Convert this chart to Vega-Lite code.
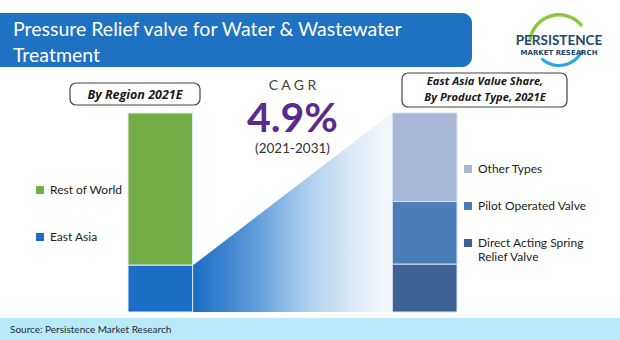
{
  "$schema": "https://vega.github.io/schema/vega-lite/v6.json",
  "width": 620,
  "height": 340,
  "padding": 0,
  "autosize": {"type": "none"},
  "background": "white",
  "config": {"view": {"stroke": null}, "font": "Lato"},
  "datasets": {
    "region": [
      {"panel": "By Region 2021E", "segment": "Rest of World", "share": 76.5},
      {"panel": "By Region 2021E", "segment": "East Asia", "share": 23.5}
    ],
    "product": [
      {"panel": "East Asia by Product Type 2021E", "segment": "Other Types", "share": 44.5},
      {"panel": "East Asia by Product Type 2021E", "segment": "Pilot Operated Valve", "share": 31.5},
      {"panel": "East Asia by Product Type 2021E", "segment": "Direct Acting Spring Relief Valve", "share": 24.0}
    ],
    "bridge": [
      {"stage": "By Region 2021E", "east_asia_top": 23.5},
      {"stage": "East Asia by Product Type 2021E", "east_asia_top": 100}
    ],
    "cagr": [
      {"metric": "CAGR", "value": "4.9%", "period": "(2021-2031)"}
    ]
  },
  "resolve": {"scale": {"x": "independent", "color": "independent"}},
  "layer": [
    {
      "data": {"values": [{}]},
      "mark": {"type": "rect", "x": -12, "x2": 472, "y": 13, "y2": 67, "cornerRadius": 10, "fill": "#1f71c1"},
      "encoding": {}
    },
    {
      "data": {"values": [{}]},
      "mark": {"type": "rule", "x": 443, "x2": 492, "y": 66, "y2": 19, "strokeWidth": 9, "strokeCap": "round", "color": "#2a6cb8"},
      "encoding": {}
    },
    {
      "data": {"values": [{}]},
      "mark": {"type": "rule", "x": 474, "x2": 505, "y": 54, "y2": 23, "strokeWidth": 7, "strokeCap": "round", "color": "#3fa3da"},
      "encoding": {}
    },
    {
      "data": {"values": [{}]},
      "mark": {"type": "arc", "x": 559, "y": 44, "outerRadius": 31, "innerRadius": 27.5, "theta": -1.5, "theta2": 0.9, "fill": "#8cc63f"},
      "encoding": {}
    },
    {
      "data": {"values": [{}]},
      "mark": {"type": "arc", "x": 559, "y": 40, "outerRadius": 27, "innerRadius": 24, "theta": 2.0, "theta2": 3.9, "fill": "#29a8e0"},
      "encoding": {}
    },
    {
      "data": {"values": [{}]},
      "mark": {"type": "text", "x": 559, "y": 45, "text": "PERSISTENCE", "align": "center", "baseline": "alphabetic", "font": "Lato", "fontSize": 13.5, "fontWeight": "bold", "color": "#22466f"},
      "encoding": {}
    },
    {
      "data": {"values": [{}]},
      "mark": {"type": "text", "x": 559, "y": 55, "text": "MARKET RESEARCH", "align": "center", "baseline": "alphabetic", "font": "DejaVu Sans", "fontSize": 7, "fontWeight": "bold", "color": "#22466f"},
      "encoding": {}
    },
    {
      "data": {"values": [{}]},
      "mark": {"type": "text", "x": 13, "y": 36, "text": "Pressure Relief valve for Water & Wastewater", "align": "left", "baseline": "alphabetic", "font": "Lato", "fontSize": 19.5, "color": "white"},
      "encoding": {}
    },
    {
      "data": {"values": [{}]},
      "mark": {"type": "text", "x": 13, "y": 62, "text": "Treatment", "align": "left", "baseline": "alphabetic", "font": "Lato", "fontSize": 19.5, "color": "white"},
      "encoding": {}
    },
    {
      "data": {"values": [{}]},
      "mark": {"type": "rect", "x": 70, "x2": 200, "y": 83, "y2": 105, "cornerRadius": 6, "fill": "white", "stroke": "#444444", "strokeWidth": 1.2},
      "encoding": {}
    },
    {
      "data": {"values": [{}]},
      "mark": {"type": "text", "x": 135, "y": 98.5, "text": "By Region 2021E", "align": "center", "baseline": "alphabetic", "font": "Open Sans", "fontSize": 12.5, "fontStyle": "italic", "fontWeight": "bold", "color": "#1a1a1a"},
      "encoding": {}
    },
    {
      "data": {"values": [{}]},
      "mark": {"type": "rect", "x": 402, "x2": 567, "y": 73, "y2": 107, "cornerRadius": 6, "fill": "white", "stroke": "#444444", "strokeWidth": 1.2},
      "encoding": {}
    },
    {
      "data": {"values": [{}]},
      "mark": {"type": "text", "x": 485, "y": 85, "text": "East Asia Value Share,", "align": "center", "baseline": "alphabetic", "font": "Open Sans", "fontSize": 11.2, "fontStyle": "italic", "fontWeight": "bold", "color": "#1a1a1a"},
      "encoding": {}
    },
    {
      "data": {"values": [{}]},
      "mark": {"type": "text", "x": 485, "y": 101, "text": "By Product Type, 2021E", "align": "center", "baseline": "alphabetic", "font": "Open Sans", "fontSize": 11.2, "fontStyle": "italic", "fontWeight": "bold", "color": "#1a1a1a"},
      "encoding": {}
    },
    {
      "data": {"name": "bridge"},
      "mark": {
        "type": "area",
        "color": {
          "gradient": "linear", "x1": 0, "y1": 0, "x2": 1, "y2": 0,
          "stops": [
            {"offset": 0, "color": "#1a6cc6"},
            {"offset": 0.3, "color": "#5c9ad8"},
            {"offset": 0.55, "color": "#a6cbed"},
            {"offset": 0.8, "color": "#dde9f6"},
            {"offset": 1, "color": "#f6f9fd"}
          ]
        }
      },
      "encoding": {
        "x": {"field": "stage", "type": "nominal", "axis": null, "scale": {"type": "point", "domain": ["By Region 2021E", "East Asia by Product Type 2021E"], "range": [193, 392], "padding": 0}},
        "y": {"field": "east_asia_top", "type": "quantitative", "stack": null, "axis": null, "scale": {"domain": [-14.07, 156.78], "nice": false, "zero": false}},
        "y2": {"datum": 0}
      }
    },
    {
      "data": {"name": "region"},
      "mark": {"type": "bar", "stroke": "#dff3fa", "strokeWidth": 1},
      "encoding": {
        "x": {"field": "panel", "type": "nominal", "axis": null, "scale": {"type": "band", "domain": ["By Region 2021E", "CAGR", "East Asia by Product Type 2021E"], "range": [128, 457], "paddingInner": 0.511, "paddingOuter": 0}},
        "y": {"field": "share", "type": "quantitative", "stack": "zero", "axis": null, "scale": {"domain": [-14.07, 156.78], "nice": false, "zero": false}},
        "order": {"field": "share", "sort": "ascending"},
        "color": {
          "field": "segment", "type": "nominal",
          "scale": {"domain": ["Rest of World", "East Asia"], "range": ["#72ae45", "#1b6dc6"]},
          "legend": {"orient": "none", "legendX": 34, "legendY": 184, "title": null, "direction": "vertical", "symbolType": "square", "symbolSize": 64, "symbolStrokeWidth": 0, "labelFont": "Lato", "labelFontSize": 12, "labelColor": "#222222", "labelOffset": 4, "rowPadding": 35, "padding": 0}
        }
      }
    },
    {
      "data": {"name": "product"},
      "mark": {"type": "bar", "stroke": "#d6e2f2", "strokeWidth": 1},
      "encoding": {
        "x": {"field": "panel", "type": "nominal", "axis": null, "scale": {"type": "band", "domain": ["By Region 2021E", "CAGR", "East Asia by Product Type 2021E"], "range": [128, 457], "paddingInner": 0.511, "paddingOuter": 0}},
        "y": {"field": "share", "type": "quantitative", "stack": "zero", "axis": null, "scale": {"domain": [-14.07, 156.78], "nice": false, "zero": false}},
        "order": {"field": "share", "sort": "ascending"},
        "color": {
          "field": "segment", "type": "nominal",
          "scale": {"domain": ["Other Types", "Pilot Operated Valve", "Direct Acting Spring Relief Valve"], "range": ["#a9b8d6", "#4b7db9", "#3d6396"]},
          "legend": {"orient": "none", "legendX": 462, "legendY": 163, "title": null, "direction": "vertical", "symbolType": "square", "symbolSize": 64, "symbolStrokeWidth": 0, "labelFont": "Lato", "labelFontSize": 12, "labelColor": "#222222", "labelOffset": 4, "rowPadding": 25, "padding": 0, "labelLimit": 200, "labelExpr": "datum.label == 'Direct Acting Spring Relief Valve' ? ['Direct Acting Spring', 'Relief Valve'] : datum.label"}
        }
      }
    },
    {
      "data": {"name": "cagr"},
      "mark": {"type": "text", "y": 90, "align": "center", "baseline": "alphabetic", "font": "Lato", "fontSize": 14, "color": "#444444", "text": "C A G R"},
      "encoding": {
        "x": {"field": "metric", "type": "nominal", "axis": null, "bandPosition": 0.5, "scale": {"type": "band", "domain": ["By Region 2021E", "CAGR", "East Asia by Product Type 2021E"], "range": [128, 457], "paddingInner": 0.511, "paddingOuter": 0}}
      }
    },
    {
      "data": {"name": "cagr"},
      "mark": {"type": "text", "y": 132, "align": "center", "baseline": "alphabetic", "font": "Lato", "fontSize": 41, "fontWeight": "bold", "color": "#5b2a8c"},
      "encoding": {
        "x": {"field": "metric", "type": "nominal", "axis": null, "bandPosition": 0.5, "scale": {"type": "band", "domain": ["By Region 2021E", "CAGR", "East Asia by Product Type 2021E"], "range": [128, 457], "paddingInner": 0.511, "paddingOuter": 0}},
        "text": {"field": "value", "type": "nominal"}
      }
    },
    {
      "data": {"name": "cagr"},
      "mark": {"type": "text", "y": 153, "align": "center", "baseline": "alphabetic", "font": "Lato", "fontSize": 13.5, "color": "#333333"},
      "encoding": {
        "x": {"field": "metric", "type": "nominal", "axis": null, "bandPosition": 0.5, "scale": {"type": "band", "domain": ["By Region 2021E", "CAGR", "East Asia by Product Type 2021E"], "range": [128, 457], "paddingInner": 0.511, "paddingOuter": 0}},
        "text": {"field": "period", "type": "nominal"}
      }
    },
    {
      "data": {"values": [{}]},
      "mark": {"type": "rect", "x": 0, "x2": 620, "y": 318, "y2": 340, "fill": "#b8eaf9"},
      "encoding": {}
    },
    {
      "data": {"values": [{}]},
      "mark": {"type": "text", "x": 10, "y": 333, "text": "Source: Persistence Market Research", "align": "left", "baseline": "alphabetic", "font": "Lato", "fontSize": 10, "color": "#1d2b3a"},
      "encoding": {}
    }
  ]
}
